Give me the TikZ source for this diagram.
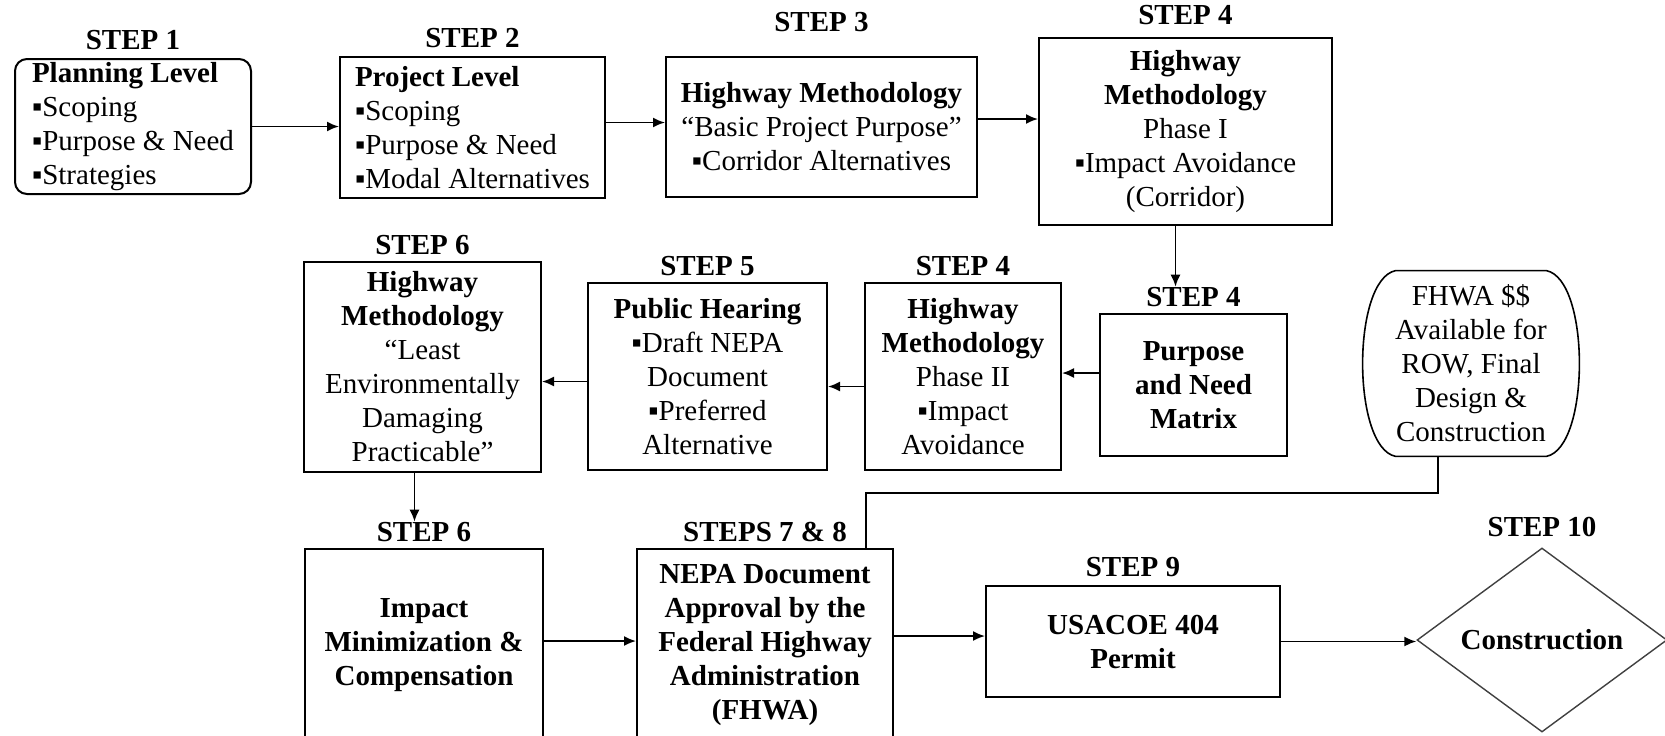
\documentclass[tikz,border=0pt]{standalone}
\usepackage{fontspec}
\setmainfont{Liberation Serif}
\usepackage{tikz}
\usetikzlibrary{calc}
\usetikzlibrary{shapes}
\usetikzlibrary{positioning}
\usetikzlibrary{arrows.meta}

\begin{document}
\begin{tikzpicture}[x=0.5pt, y=-0.5pt, >={Latex[length=6pt,width=5pt]},
  every node/.style={font=\fontsize{14.5}{17}\selectfont},
  box/.style={draw, line width=1pt, align=center, inner sep=0pt},
  steplabel/.style={font=\fontsize{14.5}{17}\selectfont\bfseries, inner sep=0pt},
  conn/.style={line width=0.9pt}]
\fill[white] (0,0) rectangle (1665,735);
\useasboundingbox (0,0) rectangle (1665,735);
\clip (0,0) rectangle (1665,735);

  \node[name=s1, box, rounded corners=6pt, align=left, minimum width=118pt, minimum height=67.5pt] at (133,126.5)
   {\textbf{Planning Level}\\▪Scoping\\▪Purpose \& Need\\▪Strategies};
  \node[name=s2, box, align=left, minimum width=132.5pt, minimum height=70.5pt] at (472.5,127.5)
   {\textbf{Project Level}\\▪Scoping\\▪Purpose \& Need\\▪Modal Alternatives};
  \node[name=s3, box, minimum width=155.5pt, minimum height=70pt] at (821.5,127)
   {\textbf{Highway Methodology}\\“Basic Project Purpose”\\▪Corridor Alternatives};
  \node[name=s4a, box, minimum width=146.5pt, minimum height=93.5pt] at (1185.5,131.5)
   {\textbf{Highway}\\\textbf{Methodology}\\Phase I\\▪Impact Avoidance\\(Corridor)};
  \node[name=s4b, box, minimum width=93.5pt, minimum height=71pt] at (1193.5,385)
   {\textbf{Purpose}\\\textbf{and Need}\\\textbf{Matrix}};
  \node[name=fhwa, align=center, inner sep=0pt, minimum width=107pt, minimum height=92.5pt] at (1471,363.5)
   {FHWA \$\$\\Available for\\ROW, Final\\Design \&\\Construction};
  \node[name=s4c, box, minimum width=98pt, minimum height=93.5pt] at (963,376.5)
   {\textbf{Highway}\\\textbf{Methodology}\\Phase II\\▪Impact\\Avoidance};
  \node[name=s5, box, minimum width=119.5pt, minimum height=93.5pt] at (707.5,376.5)
   {\textbf{Public Hearing}\\▪Draft NEPA\\Document\\▪Preferred\\Alternative};
  \node[name=s6a, box, minimum width=118.5pt, minimum height=105pt] at (422.5,367)
   {\textbf{Highway}\\\textbf{Methodology}\\“Least\\Environmentally\\Damaging\\Practicable”};
  \node[name=s6b, box, minimum width=119pt, minimum height=96pt] at (424,645)
   {\textbf{Impact}\\\textbf{Minimization \&}\\\textbf{Compensation}};
  \node[name=s78, box, minimum width=128pt, minimum height=96pt] at (765,645)
   {\textbf{NEPA Document}\\\textbf{Approval by the}\\\textbf{Federal Highway}\\\textbf{Administration}\\\textbf{(FHWA)}};
  \node[name=s9, box, minimum width=147pt, minimum height=55.5pt] at (1133,641.5)
   {\textbf{USACOE 404}\\\textbf{Permit}};
  \node[name=s10, diamond, draw=black!75, line width=0.7pt, aspect=1.36, inner sep=0pt,
   minimum width=125pt, minimum height=92pt] at (1542,640) {\textbf{Construction}};

  \node[name=l1, steplabel, above=4pt of s1] {STEP 1};
  \node[name=l2, steplabel, above=4pt of s2] {STEP 2};
  \node[name=l3, steplabel, above=12pt of s3] {STEP 3};
  \node[name=l4a, steplabel, above=6pt of s4a] {STEP 4};
  \node[name=l4b, steplabel, above=3pt of s4b] {STEP 4};
  \node[name=l4c, steplabel, above=3pt of s4c] {STEP 4};
  \node[name=l5, steplabel, above=3pt of s5] {STEP 5};
  \node[name=l6a, steplabel, above=3pt of s6a] {STEP 6};
  \node[name=l6b, steplabel, above=3pt of s6b] {STEP 6};
  \node[name=l78, steplabel, above=3pt of s78] {STEPS 7 \& 8};
  \node[name=l9, steplabel, above=4pt of s9] {STEP 9};
  \node[name=l10, steplabel, above=5pt of s10] {STEP 10};

\draw[line width=0.8pt] ($(fhwa.north west)+(32,0)$) -- ($(fhwa.north east)+(-32,0)$)
  .. controls ($(fhwa.north east)+(12,9)$) and ($(fhwa.south east)+(12,-9)$) .. ($(fhwa.south east)+(-32,0)$)
  -- ($(fhwa.south west)+(32,0)$)
  .. controls ($(fhwa.south west)+(-12,-9)$) and ($(fhwa.north west)+(-12,9)$) .. cycle;

\coordinate (a23) at ($(s2.east)+(0,-5)$);
\coordinate (a34) at ($(s3.east)+(0,-8)$);
\coordinate (a4) at ($(s4a.south)+(-10,0)$);
\coordinate (a4b) at ($(s4b.west)+(0,-12)$);
\coordinate (a4c) at ($(s4c.west)+(0,10)$);
\coordinate (a5) at ($(s5.west)+(0,5)$);
\coordinate (a6) at ($(s6a.south)+(-8,0)$);
\coordinate (a67) at ($(s6b.east)+(0,-4)$);
\coordinate (a78) at ($(s78.east)+(0,-9)$);
\coordinate (f1) at ($(fhwa.south)+(-33,0)$);
\coordinate (f2) at ($(s78.north east)+(-28,0)$);

\draw[conn, ->] (s1.east) -- (s1.east -| s2.west);
\draw[conn, ->] (a23) -- (a23 -| s3.west);
\draw[conn, ->] (a34) -- (a34 -| s4a.west);
\draw[conn, ->] (a4) -- (a4 |- l4b.north);
\draw[conn, ->] (a4b) -- (a4b -| s4c.east);
\draw[conn, ->] (a4c) -- (a4c -| s5.east);
\draw[conn, ->] (a5) -- (a5 -| s6a.east);
\draw[conn, ->] (a6) -- (a6 |- l6b.north);
\draw[conn, ->] (a67) -- (a67 -| s78.west);
\draw[conn, ->] (a78) -- (a78 -| s9.west);
\draw[conn, ->] (s9.east) -- (s9.east -| s10.west);
\draw[conn] (f1) |- ($(f2)+(0,-55)$) -- (f2);
\end{tikzpicture}
\end{document}
